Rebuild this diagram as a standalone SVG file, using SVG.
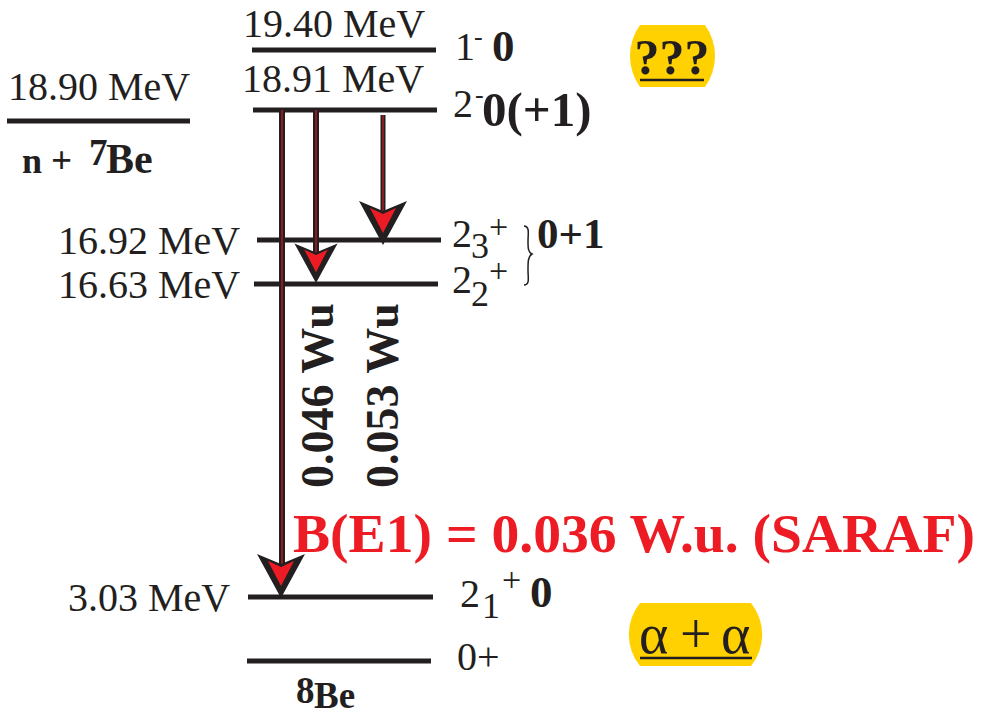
<svg xmlns="http://www.w3.org/2000/svg" width="983" height="717" viewBox="0 0 983 717">
<style>
.lvl{stroke:#231F20;stroke-width:5;fill:none}
.t{font-family:"Liberation Serif","Times New Roman",serif;fill:#231F20}
.b{font-weight:bold}
.ar{stroke:#231F20;fill:none}
.arc{stroke:#ED1C24;stroke-width:1;fill:none}
.red{fill:#ED1C24}
.box{fill:#FFD100}
</style>
<defs>
<g id="head">
<path d="M0,0 L-24,-44 L0,-34 L24,-44 Z" fill="#231F20"/>
<path d="M0,-12 L-13,-37 L0,-31 L13,-37 Z" fill="#ED1C24"/>
</g>
</defs>
<g id="levels">
<g id="lvl-1940"><line class="lvl" x1="252" y1="50" x2="436" y2="50"/><text class="t" x="243" y="37" font-size="40">19.40 MeV</text>
<text class="t" x="455" y="60" font-size="40">1</text><text class="t" x="474" y="45" font-size="26">-</text><text class="t b" x="492" y="61" font-size="45">0</text></g>
<g id="lvl-1891"><line class="lvl" x1="253" y1="110" x2="437" y2="110"/><text class="t" x="242" y="92" font-size="40">18.91 MeV</text>
<text class="t" x="453" y="117" font-size="40">2</text><text class="t" x="475" y="103" font-size="26">-</text><text class="t b" x="482" y="126" font-size="49">0(+1)</text></g>
<g id="lvl-n7be"><line class="lvl" x1="7" y1="121" x2="190" y2="121"/><text class="t" x="8" y="100" font-size="40">18.90 MeV</text>
<text class="t b" x="22" y="173" font-size="36">n</text><text class="t b" x="51" y="173" font-size="37">+</text><text class="t b" x="89" y="165" font-size="37">7</text><text class="t b" x="106" y="173" font-size="42">Be</text></g>
<g id="lvl-1692"><line class="lvl" x1="257" y1="240" x2="441" y2="240"/><text class="t" x="58" y="254" font-size="40">16.92 MeV</text>
<text class="t" x="452" y="247" font-size="40">2</text><text class="t" x="471" y="258" font-size="36">3</text><text class="t" x="489" y="238" font-size="34">+</text></g>
<g id="lvl-1663"><line class="lvl" x1="254" y1="284" x2="438" y2="284"/><text class="t" x="58" y="298" font-size="40">16.63 MeV</text>
<text class="t" x="452" y="293" font-size="40">2</text><text class="t" x="471" y="306" font-size="36">2</text><text class="t" x="489" y="282" font-size="34">+</text></g>
<g id="iso01"><path d="M524,226 C530,226 528,234 528,241 C528,248 528,252 532,254 C528,256 528,262 528,270 C528,278 530,285 524,285" fill="none" stroke="#231F20" stroke-width="1.5"/><text class="t b" x="537" y="248" font-size="43">0+1</text></g>
<g id="lvl-303"><line class="lvl" x1="248" y1="597" x2="433" y2="597"/><text class="t" x="68" y="611" font-size="40">3.03 MeV</text>
<text class="t" x="460" y="607" font-size="40">2</text><text class="t" x="482" y="618" font-size="36">1</text><text class="t" x="502" y="591" font-size="34">+</text><text class="t b" x="530" y="607" font-size="45">0</text></g>
<g id="lvl-0"><line class="lvl" x1="247" y1="661" x2="431" y2="661"/><text class="t" x="457" y="670" font-size="40">0+</text>
<text class="t b" x="296" y="703" font-size="37">8</text><text class="t b" x="314" y="708" font-size="37">Be</text></g>
</g>
<g id="connectors">
<line class="ar" stroke-width="6" x1="282" y1="110" x2="282" y2="590"/><line class="arc" x1="282" y1="110" x2="282" y2="590"/>
<line class="ar" stroke-width="6" x1="316" y1="110" x2="316" y2="278"/><line class="arc" x1="316" y1="110" x2="316" y2="278"/>
<line class="ar" stroke-width="5" x1="383" y1="115" x2="383" y2="240"/><line class="arc" x1="383" y1="115" x2="383" y2="240"/>
<use href="#head" transform="translate(281,598)"/>
<use href="#head" transform="translate(316,283) scale(0.9)"/>
<use href="#head" transform="translate(383,245)"/>
</g>
<g id="labels">
<text class="t b" font-size="46" transform="translate(333,488) rotate(-90)">0.046 Wu</text>
<text class="t b" font-size="46" transform="translate(398,488) rotate(-90)">0.053 Wu</text>
<text class="t b red" x="293" y="552" font-size="55.6">B(E1) = 0.036 W.u. (SARAF)</text>
</g>
<g id="tag-unknown"><path class="box" d="M640,25 H705 A53,53 0 0 1 705,87 H640 A53,53 0 0 1 640,25 Z"/><text class="t b" x="672" y="74" font-size="50" text-anchor="middle">???</text><line x1="640" y1="80" x2="704" y2="80" stroke="#231F20" stroke-width="2.5"/></g>
<g id="tag-alpha"><path class="box" d="M640,603 H751 A50,50 0 0 1 751,666 H640 A50,50 0 0 1 640,603 Z"/><text class="t" y="653" font-size="56"><tspan x="639">α</tspan><tspan x="680">+</tspan><tspan x="721">α</tspan></text><line x1="640" y1="658" x2="752" y2="658" stroke="#231F20" stroke-width="2.5"/></g>
</svg>
